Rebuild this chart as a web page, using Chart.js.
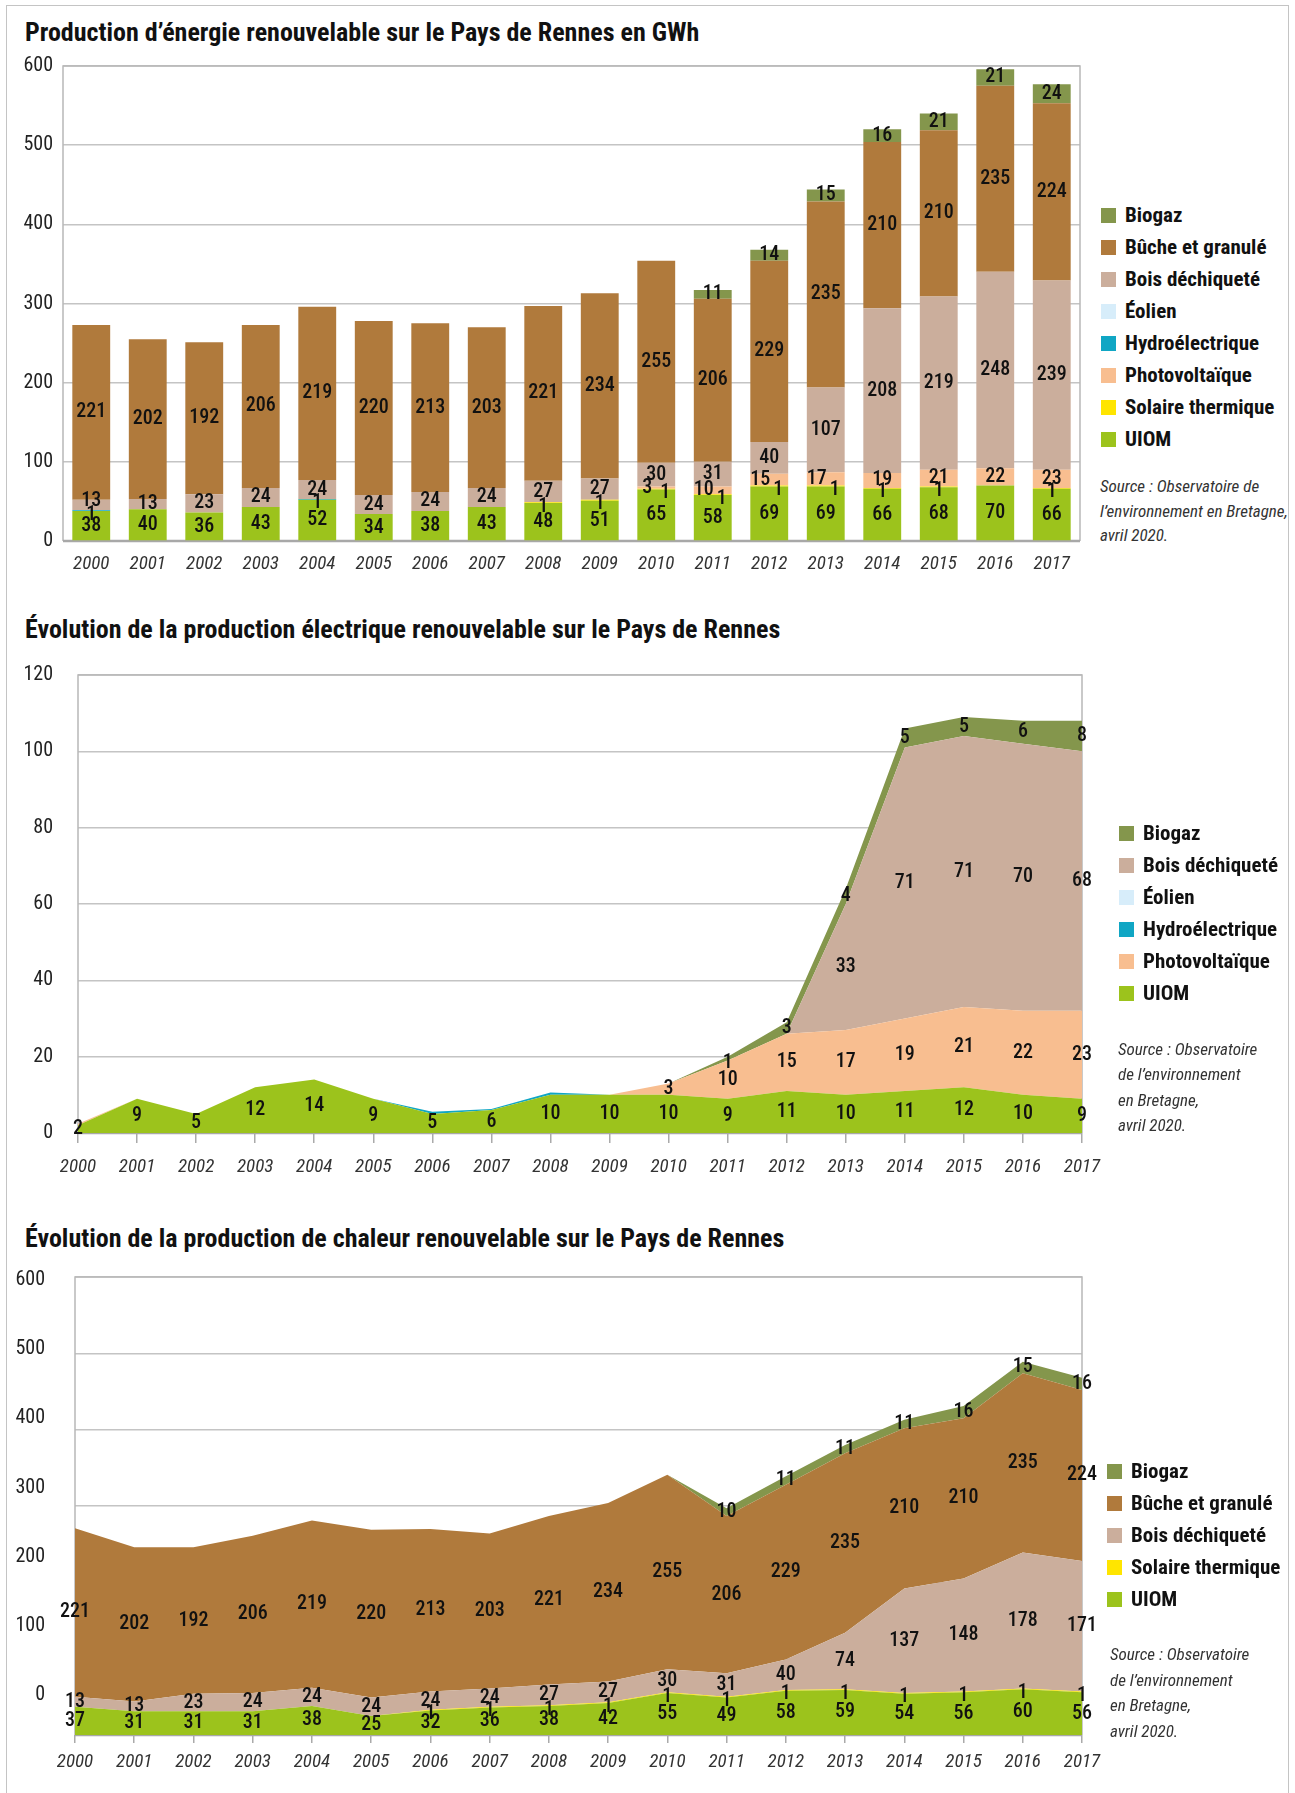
<!DOCTYPE html>
<html lang="fr">
<head>
<meta charset="UTF-8">
<title>Énergie renouvelable – Pays de Rennes</title>
<script src="https://cdn.jsdelivr.net/npm/chart.js"></script>
<style>
  body { margin: 0; background: #fff; }
  .page { position: relative; width: 1295px; height: 1793px; overflow: hidden;
          font-family: Roboto, sans-serif; font-stretch: condensed; color: #111; }
  .frame { position: absolute; left: 6px; top: 5px; width: 1281px; height: 1850px; border: 1.5px solid #c4c4c4; }
  .title { position: absolute; left: 25px; height: 30px; line-height: 30px; font-weight: bold; font-size: 26px; white-space: nowrap; }
  canvas { position: absolute; left: 0; }
  .legend { position: absolute; }
  .legend div { height: 32px; display: flex; align-items: center; font-size: 21px; font-weight: bold; white-space: nowrap; }
  .legend span { display: inline-block; width: 15px; height: 15px; margin-right: 9px; }
  .source { position: absolute; font-style: italic; font-size: 17px; color: #333; white-space: nowrap; }
</style>
</head>
<body>
<div class="page">
  <div class="frame"></div>

  <div class="title" style="top:17px">Production d’énergie renouvelable sur le Pays de Rennes en GWh</div>
  <canvas id="c1" width="1090" height="551" style="top:44px"></canvas>
  <div class="legend" id="leg1" style="left:1101px; top:199px"></div>
  <div class="source" style="left:1100px; top:474px; line-height:24.5px">Source : Observatoire de<br>l’environnement en Bretagne,<br>avril 2020.</div>

  <div class="title" style="top:614px">Évolution de la production électrique renouvelable sur le Pays de Rennes</div>
  <canvas id="c2" width="1130" height="557" style="top:638px"></canvas>
  <div class="legend" id="leg2" style="left:1119px; top:817px"></div>
  <div class="source" style="left:1118px; top:1037px; line-height:25.3px">Source : Observatoire<br>de l’environnement<br>en Bretagne,<br>avril 2020.</div>

  <div class="title" style="top:1223px">Évolution de la production de chaleur renouvelable sur le Pays de Rennes</div>
  <canvas id="c3" width="1130" height="550" style="top:1243px"></canvas>
  <div class="legend" id="leg3" style="left:1107px; top:1455px"></div>
  <div class="source" style="left:1110px; top:1642px; line-height:25.7px">Source : Observatoire<br>de l’environnement<br>en Bretagne,<br>avril 2020.</div>
</div>

<script>
    const FONT = "Roboto, sans-serif";

    const years = ['2000', '2001', '2002', '2003', '2004', '2005', '2006', '2007', '2008',
        '2009', '2010', '2011', '2012', '2013', '2014', '2015', '2016', '2017'];

    // Production totale (GWh)
    const uiomTot    = [38, 40, 36, 43, 52, 34, 38, 43, 48, 51, 65, 58, 69, 69, 66, 68, 70, 66];
    const solaireTot = [0, 0, 0, 0, 0, 0, 0, 0, 1, 1, 1, 1, 1, 1, 1, 1, 0, 1];
    const pvTot      = [0, 0, 0, 0, 0, 0, 0, 0, 0, 0, 3, 10, 15, 17, 19, 21, 22, 23];
    const hydroTot   = [1, 0, 0, 0, 1, 0, 0, 0, 0, 0, 0, 0, 0, 0, 0, 0, 0, 0];
    const eolienTot  = [0, 0, 0, 0, 0, 0, 0, 0, 0, 0, 0, 0, 0, 0, 0, 0, 0, 0];
    const boisTot    = [13, 13, 23, 24, 24, 24, 24, 24, 27, 27, 30, 31, 40, 107, 208, 219, 248, 239];
    const bucheTot   = [221, 202, 192, 206, 219, 220, 213, 203, 221, 234, 255, 206, 229, 235, 210, 210, 235, 224];
    const biogazTot  = [0, 0, 0, 0, 0, 0, 0, 0, 0, 0, 0, 11, 14, 15, 16, 21, 21, 24];
    const ticksTot   = [0, 100, 200, 300, 400, 500, 600];

    // Production électrique
    const uiomElec   = [2, 9, 5, 12, 14, 9, 5, 6, 10, 10, 10, 9, 11, 10, 11, 12, 10, 9];
    const pvElec     = [0.4, 0, 0, 0, 0, 0, 0, 0, 0, 0, 3, 10, 15, 17, 19, 21, 22, 23];
    const hydroElec  = [0, 0, 0, 0, 0, 0, 0.6, 0.3, 0.6, 0, 0, 0, 0, 0, 0, 0, 0, 0];
    const eolienElec = [0, 0, 0, 0, 0, 0, 0, 0, 0, 0, 0, 0, 0, 0, 0, 0, 0, 0];
    const boisElec   = [0, 0, 0, 0, 0, 0, 0, 0, 0, 0, 0, 0, 0, 33, 71, 71, 70, 68];
    const biogazElec = [0, 0, 0, 0, 0, 0, 0, 0, 0, 0, 0, 1, 3, 4, 5, 5, 6, 8];
    const ticksElec  = [0, 20, 40, 60, 80, 100, 120];

    // Production de chaleur
    const uiomChal    = [37, 31, 31, 31, 38, 25, 32, 36, 38, 42, 55, 49, 58, 59, 54, 56, 60, 56];
    const solaireChal = [0, 0, 0, 0, 0, 0, 1, 1, 1, 1, 1, 1, 1, 1, 1, 1, 1, 1];
    const boisChal    = [13, 13, 23, 24, 24, 24, 24, 24, 27, 27, 30, 31, 40, 74, 137, 148, 178, 171];
    const bucheChal   = [221, 202, 192, 206, 219, 220, 213, 203, 221, 234, 255, 206, 229, 235, 210, 210, 235, 224];
    const biogazChal  = [0, 0, 0, 0, 0, 0, 0, 0, 0, 0, 0, 10, 11, 11, 11, 16, 15, 16];
    const ticksChal   = [0, 100, 200, 300, 400, 500, 600];

    const colors = {
        'UIOM': '#9cc31c',
        'Solaire thermique': '#ffe500',
        'Photovoltaïque': '#f8be90',
        'Hydroélectrique': '#10a6c4',
        'Éolien': '#d7edfa',
        'Bois déchiqueté': '#cbae9c',
        'Bûche et granulé': '#b07a3c',
        'Biogaz': '#84964c'
    };

    // cadre gris autour de la zone de tracé
    const framePlugin = {
        id: 'frame',
        beforeDatasetsDraw(chart) {
            const { left, right, top, bottom } = chart.chartArea;
            const ctx = chart.ctx;
            ctx.save();
            ctx.strokeStyle = '#b8b8b8';
            ctx.lineWidth = 1.5;
            ctx.beginPath();
            ctx.moveTo(left, bottom);
            ctx.lineTo(left, top);
            ctx.lineTo(right, top);
            ctx.lineTo(right, bottom);
            ctx.stroke();
            ctx.strokeStyle = '#a8a8a8';
            ctx.lineWidth = 2.5;
            ctx.beginPath();
            ctx.moveTo(left, bottom);
            ctx.lineTo(right, bottom);
            ctx.stroke();
            ctx.restore();
        }
    };

    // valeurs écrites au milieu de chaque tranche empilée
    const valueLabels = {
        id: 'valueLabels',
        afterDatasetsDraw(chart, args, opts) {
            const ctx = chart.ctx;
            const sets = chart.data.datasets;
            const yScale = chart.scales.y;
            ctx.save();
            ctx.font = 'condensed 500 ' + opts.size + 'px ' + FONT;
            ctx.fillStyle = '#111';
            ctx.textAlign = 'center';
            ctx.textBaseline = 'middle';
            sets.forEach((ds, i) => {
                chart.getDatasetMeta(i).data.forEach((el, j) => {
                    const v = ds.data[j];
                    if (v < 1) return;
                    let base = 0;
                    for (let k = 0; k < i; k++) base += sets[k].data[j];
                    let x = el.x;
                    let y = yScale.getPixelForValue(base + v / 2);
                    if (v === 1) y += 4;
                    if (opts.nudge) {
                        const d = opts.nudge(ds.label, j);
                        x += d.dx;
                        y += d.dy;
                    }
                    ctx.fillText(String(v), x, y);
                });
            });
            ctx.restore();
        }
    };

    // petits décalages pour les étiquettes qui se chevauchent (graphique 1)
    function nudgeTot(name, j) {
        if (name === 'Photovoltaïque' && pvTot[j] < 18 && solaireTot[j] >= 1) return { dx: -9, dy: 0 };
        if (name === 'Solaire thermique' && pvTot[j] > 0 && pvTot[j] < 18) return { dx: 9, dy: 0 };
        if (name === 'Bois déchiqueté' && hydroTot[j] >= 1 && boisTot[j] < 20) return { dx: 0, dy: -4 };
        return { dx: 0, dy: 0 };
    }

    function makeLegend(id, names) {
        const box = document.getElementById(id);
        names.forEach(n => {
            const row = document.createElement('div');
            row.innerHTML = `<span style="background:${colors[n]}"></span>${n}`;
            box.appendChild(row);
        });
    }

    function areaSet(name, data, i) {
        return {
            label: name, data: data, backgroundColor: colors[name], borderWidth: 0,
            pointRadius: 0, tension: 0, fill: i === 0 ? 'origin' : '-1'
        };
    }

    Chart.defaults.font.family = FONT;
    Chart.defaults.color = '#222';

    // "condensed" passe dans la chaîne de police du canvas
    const xTickFont = { style: 'italic', weight: 'condensed', size: 19 };
    const yTickFont = { weight: 'condensed', size: 20 };
    const gridStyle = { color: '#c4c4c4', lineWidth: 1.5, drawTicks: false };

    // Graphique 1 : barres empilées
    const totSeries = [
        ['UIOM', uiomTot], ['Solaire thermique', solaireTot], ['Photovoltaïque', pvTot],
        ['Hydroélectrique', hydroTot], ['Éolien', eolienTot], ['Bois déchiqueté', boisTot],
        ['Bûche et granulé', bucheTot], ['Biogaz', biogazTot]
    ];
    new Chart(document.getElementById('c1'), {
        type: 'bar',
        data: {
            labels: years,
            datasets: totSeries.map(([n, d]) => ({
                label: n, data: d, backgroundColor: colors[n], borderWidth: 0,
                categoryPercentage: 1, barPercentage: 0.67
            }))
        },
        options: {
            responsive: false,
            animation: false,
            layout: { padding: { top: 0, right: 10, left: 0, bottom: 0 } },
            plugins: {
                legend: { display: false },
                tooltip: { enabled: false },
                valueLabels: { size: 20, nudge: nudgeTot }
            },
            scales: {
                x: {
                    stacked: true,
                    grid: { display: false },
                    border: { display: false },
                    ticks: { font: xTickFont, color: '#333', padding: 4, maxRotation: 0, autoSkip: false },
                    afterFit: s => { s.height = 54; }
                },
                y: {
                    stacked: true, min: 0, max: 600,
                    grid: gridStyle,
                    border: { display: false },
                    ticks: { font: yTickFont, padding: 10 },
                    afterBuildTicks: s => { s.ticks = ticksTot.map(v => ({ value: v })); },
                    afterFit: s => { s.width = 63; }
                }
            }
        },
        plugins: [framePlugin, valueLabels]
    });
    makeLegend('leg1', totSeries.map(s => s[0]).reverse());

    // Graphique 2 : aires empilées, électricité
    const elecSeries = [
        ['UIOM', uiomElec], ['Photovoltaïque', pvElec], ['Hydroélectrique', hydroElec],
        ['Éolien', eolienElec], ['Bois déchiqueté', boisElec], ['Biogaz', biogazElec]
    ];
    new Chart(document.getElementById('c2'), {
        type: 'line',
        data: { labels: years, datasets: elecSeries.map(([n, d], i) => areaSet(n, d, i)) },
        options: {
            responsive: false,
            animation: false,
            layout: { padding: { top: 0, right: 48, left: 0, bottom: 0 } },
            plugins: {
                legend: { display: false },
                tooltip: { enabled: false },
                valueLabels: { size: 20 }
            },
            scales: {
                x: {
                    offset: false,
                    grid: { drawOnChartArea: false, color: '#aaa', lineWidth: 1.5, tickLength: 10 },
                    border: { display: false },
                    ticks: { font: xTickFont, color: '#333', padding: 13, maxRotation: 0, autoSkip: false },
                    afterFit: s => { s.height = 62; }
                },
                y: {
                    stacked: true, min: 0, max: 120,
                    grid: gridStyle,
                    border: { display: false },
                    ticks: { font: yTickFont, padding: 25 },
                    afterBuildTicks: s => { s.ticks = ticksElec.map(v => ({ value: v })); },
                    afterFit: s => { s.width = 78; }
                }
            }
        },
        plugins: [framePlugin, valueLabels]
    });
    makeLegend('leg2', elecSeries.map(s => s[0]).reverse());

    // Graphique 3 : aires empilées, chaleur
    // (les graduations de gauche sont décalées par rapport aux lignes, comme dans l'original)
    const chalSeries = [
        ['UIOM', uiomChal], ['Solaire thermique', solaireChal], ['Bois déchiqueté', boisChal],
        ['Bûche et granulé', bucheChal], ['Biogaz', biogazChal]
    ];
    new Chart(document.getElementById('c3'), {
        type: 'line',
        data: { labels: years, datasets: chalSeries.map(([n, d], i) => areaSet(n, d, i)) },
        options: {
            responsive: false,
            animation: false,
            layout: { padding: { top: 0, right: 48, left: 0, bottom: 0 } },
            plugins: {
                legend: { display: false },
                tooltip: { enabled: false },
                valueLabels: { size: 20 }
            },
            scales: {
                x: {
                    offset: false,
                    grid: { drawOnChartArea: false, color: '#aaa', lineWidth: 1.5, tickLength: 8 },
                    border: { display: false },
                    ticks: { font: xTickFont, color: '#333', padding: 8, maxRotation: 0, autoSkip: false },
                    afterFit: s => { s.height = 58; }
                },
                y: {
                    stacked: true, min: 0, max: 600,
                    grid: gridStyle,
                    border: { display: false },
                    ticks: { display: false },
                    afterBuildTicks: s => { s.ticks = ticksChal.map(v => ({ value: v })); },
                    afterFit: s => { s.width = 0; }
                },
                yl: {
                    position: 'left', min: -57.5, max: 604.3,
                    grid: { display: false },
                    border: { display: false },
                    ticks: { font: yTickFont, padding: 22 },
                    afterBuildTicks: s => { s.ticks = ticksChal.map(v => ({ value: v })); },
                    afterFit: s => { s.width = 75; }
                }
            }
        },
        plugins: [framePlugin, valueLabels]
    });
    makeLegend('leg3', chalSeries.map(s => s[0]).reverse());
</script>
</body>
</html>
